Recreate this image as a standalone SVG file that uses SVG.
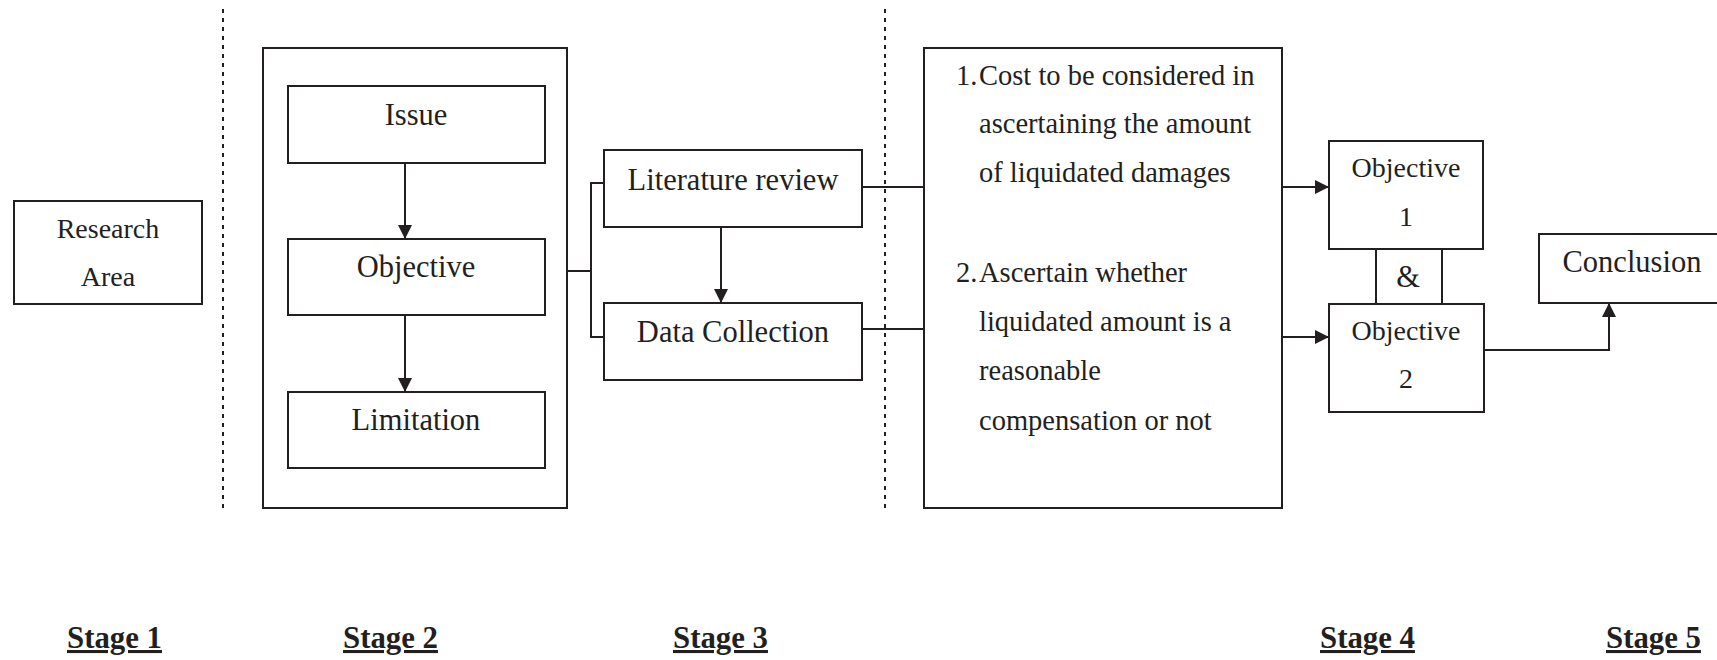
<svg xmlns="http://www.w3.org/2000/svg" width="1717" height="660" viewBox="0 0 1717 660">
<style>
.box{fill:#fff;stroke:#231f20;stroke-width:2}
.ln{fill:none;stroke:#231f20;stroke-width:2}
.dash{fill:none;stroke:#231f20;stroke-width:2;stroke-dasharray:4 5}
text{font-family:"Liberation Serif","Times New Roman",serif;fill:#231f20}
.t30{font-size:30.5px;text-anchor:middle}
.t28{font-size:28px;text-anchor:middle}
.tb{font-size:28.5px}
.st{font-size:30.8px;font-weight:bold;text-decoration:underline}
</style>
<defs>
<marker id="arr" viewBox="0 0 10 10" refX="10" refY="5" markerWidth="14" markerHeight="14" markerUnits="userSpaceOnUse" orient="auto">
<path d="M0,0 L10,5 L0,10 z" fill="#231f20"/>
</marker>
</defs>
<line class="dash" x1="223" y1="9" x2="223" y2="510"/>
<line class="dash" x1="885" y1="9" x2="885" y2="510"/>
<g id="research-area">
<rect class="box" x="14" y="201" width="188" height="103"/>
<text class="t28" x="108" y="238">Research</text>
<text class="t28" x="108" y="286">Area</text>
</g>
<g id="stage2-frame">
<rect class="box" x="263" y="48" width="304" height="460"/>
</g>
<g id="issue">
<rect class="box" x="288" y="86" width="257" height="77"/>
<text class="t30" x="416" y="125">Issue</text>
</g>
<g id="objective">
<rect class="box" x="288" y="239" width="257" height="76"/>
<text class="t30" x="416" y="277">Objective</text>
</g>
<g id="limitation">
<rect class="box" x="288" y="392" width="257" height="76"/>
<text class="t30" x="416" y="430">Limitation</text>
</g>
<g id="literature-review">
<rect class="box" x="604" y="150" width="258" height="77"/>
<text class="t30" x="733" y="190">Literature review</text>
</g>
<g id="data-collection">
<rect class="box" x="604" y="303" width="258" height="77"/>
<text class="t30" x="733" y="342">Data Collection</text>
</g>
<g id="objectives-text">
<rect class="box" x="924" y="48" width="358" height="460"/>
<text class="tb" x="956" y="85">1.</text>
<text class="tb" x="979" y="85">Cost to be considered in</text>
<text class="tb" x="979" y="133">ascertaining the amount</text>
<text class="tb" x="979" y="182">of liquidated damages</text>
<text class="tb" x="956" y="282">2.</text>
<text class="tb" x="979" y="282">Ascertain whether</text>
<text class="tb" x="979" y="331">liquidated amount is a</text>
<text class="tb" x="979" y="380">reasonable</text>
<text class="tb" x="979" y="430">compensation or not</text>
</g>
<g id="objective-1">
<rect class="box" x="1329" y="141" width="154" height="108"/>
<text class="t28" x="1406" y="177">Objective</text>
<text class="t28" x="1406" y="226">1</text>
</g>
<g id="objective-2">
<rect class="box" x="1329" y="304" width="155" height="108"/>
<text class="t28" x="1406" y="340">Objective</text>
<text class="t28" x="1406" y="388">2</text>
</g>
<g id="conclusion">
<rect class="box" x="1539" y="234" width="190" height="69"/>
<text class="t30" x="1632" y="272">Conclusion</text>
</g>
<g id="connectors">
<line class="ln" x1="405" y1="163" x2="405" y2="239" marker-end="url(#arr)"/>
<line class="ln" x1="405" y1="315" x2="405" y2="392" marker-end="url(#arr)"/>
<path class="ln" d="M567,271 H591 M604,183 H591 V337 H604"/>
<line class="ln" x1="721" y1="227" x2="721" y2="303" marker-end="url(#arr)"/>
<line class="ln" x1="862" y1="187" x2="924" y2="187"/>
<line class="ln" x1="862" y1="329" x2="924" y2="329"/>
<line class="ln" x1="1282" y1="187" x2="1329" y2="187" marker-end="url(#arr)"/>
<line class="ln" x1="1282" y1="337" x2="1329" y2="337" marker-end="url(#arr)"/>
<line class="ln" x1="1376" y1="249" x2="1376" y2="304"/>
<line class="ln" x1="1442" y1="249" x2="1442" y2="304"/>
<path class="ln" d="M1484,350 H1609 V303" marker-end="url(#arr)"/>
</g>
<text class="t30" x="1408" y="287">&amp;</text>
<g id="stage-labels">
<text class="st" x="67" y="648">Stage 1</text>
<text class="st" x="343" y="648">Stage 2</text>
<text class="st" x="673" y="648">Stage 3</text>
<text class="st" x="1320" y="648">Stage 4</text>
<text class="st" x="1606" y="648">Stage 5</text>
</g>
</svg>
